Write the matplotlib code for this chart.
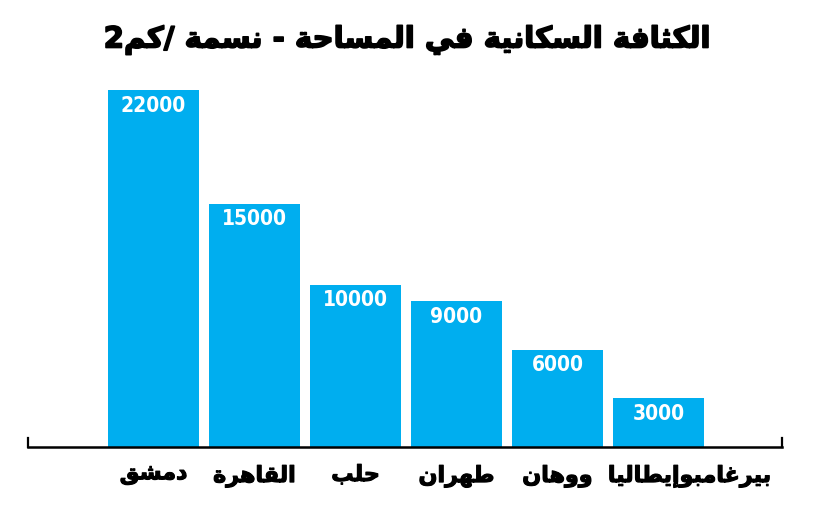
import matplotlib
matplotlib.use("Agg")
import matplotlib.pyplot as plt
from matplotlib.transforms import ScaledTranslation
import matplotlib.patheffects as pe

# ---- data ----
title = "الكثافة السكانية في المساحة - نسمة /كم2"
categories = ["دمشق", "القاهرة", "حلب", "طهران", "ووهان", "بيرغامبوإيطاليا"]
values = [22000, 15000, 10000, 9000, 6000, 3000]

# ---- minimal Arabic shaping (presentation forms) + visual reordering ----
FORMS = {
    '\u0627': ('\uFE8D', '\uFE8E', None, None),
    '\u0625': ('\uFE87', '\uFE88', None, None),
    '\u0623': ('\uFE83', '\uFE84', None, None),
    '\u0628': ('\uFE8F', '\uFE90', '\uFE91', '\uFE92'),
    '\u0629': ('\uFE93', '\uFE94', None, None),
    '\u062A': ('\uFE95', '\uFE96', '\uFE97', '\uFE98'),
    '\u062B': ('\uFE99', '\uFE9A', '\uFE9B', '\uFE9C'),
    '\u062C': ('\uFE9D', '\uFE9E', '\uFE9F', '\uFEA0'),
    '\u062D': ('\uFEA1', '\uFEA2', '\uFEA3', '\uFEA4'),
    '\u062E': ('\uFEA5', '\uFEA6', '\uFEA7', '\uFEA8'),
    '\u062F': ('\uFEA9', '\uFEAA', None, None),
    '\u0630': ('\uFEAB', '\uFEAC', None, None),
    '\u0631': ('\uFEAD', '\uFEAE', None, None),
    '\u0632': ('\uFEAF', '\uFEB0', None, None),
    '\u0633': ('\uFEB1', '\uFEB2', '\uFEB3', '\uFEB4'),
    '\u0634': ('\uFEB5', '\uFEB6', '\uFEB7', '\uFEB8'),
    '\u0635': ('\uFEB9', '\uFEBA', '\uFEBB', '\uFEBC'),
    '\u0636': ('\uFEBD', '\uFEBE', '\uFEBF', '\uFEC0'),
    '\u0637': ('\uFEC1', '\uFEC2', '\uFEC3', '\uFEC4'),
    '\u0638': ('\uFEC5', '\uFEC6', '\uFEC7', '\uFEC8'),
    '\u0639': ('\uFEC9', '\uFECA', '\uFECB', '\uFECC'),
    '\u063A': ('\uFECD', '\uFECE', '\uFECF', '\uFED0'),
    '\u0641': ('\uFED1', '\uFED2', '\uFED3', '\uFED4'),
    '\u0642': ('\uFED5', '\uFED6', '\uFED7', '\uFED8'),
    '\u0643': ('\uFED9', '\uFEDA', '\uFEDB', '\uFEDC'),
    '\u0644': ('\uFEDD', '\uFEDE', '\uFEDF', '\uFEE0'),
    '\u0645': ('\uFEE1', '\uFEE2', '\uFEE3', '\uFEE4'),
    '\u0646': ('\uFEE5', '\uFEE6', '\uFEE7', '\uFEE8'),
    '\u0647': ('\uFEE9', '\uFEEA', '\uFEEB', '\uFEEC'),
    '\u0648': ('\uFEED', '\uFEEE', None, None),
    '\u064A': ('\uFEF1', '\uFEF2', '\uFEF3', '\uFEF4'),
}


def shape(s):
    out = []
    n = len(s)
    for i, c in enumerate(s):
        if c not in FORMS:
            out.append(c)
            continue
        prev = s[i - 1] if i > 0 else None
        nxt = s[i + 1] if i < n - 1 else None
        jp = prev in FORMS and FORMS[prev][2] is not None
        jn = FORMS[c][2] is not None and nxt in FORMS
        iso, fin, ini, med = FORMS[c]
        if jp and jn:
            out.append(med)
        elif jp:
            out.append(fin)
        elif jn:
            out.append(ini)
        else:
            out.append(iso)
    out = out[::-1]
    res, run = [], []
    for ch in out:
        if ch.isdigit():
            run.append(ch)
        else:
            if run:
                res.extend(run[::-1])
                run = []
            res.append(ch)
    if run:
        res.extend(run[::-1])
    return "".join(res)


bar_color = "#00AEEF"

fig = plt.figure(figsize=(8.22, 5.07), dpi=100)
ax = fig.add_axes([28 / 822, 60 / 507, (782 - 28) / 822, (447 - 74) / 507])

x = list(range(len(categories)))
bars = ax.bar(x, values, width=0.9, color=bar_color, zorder=2)
ax.set_xlim(-1.243, 6.223)
ax.set_ylim(0, 23000)

for b, v in zip(bars, values):
    ax.annotate(str(v), (b.get_x() + b.get_width() / 2, v), xytext=(0, -4),
                textcoords="offset points", ha="center", va="top",
                color="white", fontsize=15, fontweight="bold",
                fontstretch="condensed", family=["DejaVu Sans"])

ax.spines["top"].set_visible(False)
for s in ["left", "right"]:
    ax.spines[s].set_linewidth(1.6)
    ax.spines[s].set_bounds(0, 560)
ax.spines["bottom"].set_linewidth(1.8)
ax.spines["bottom"].set_zorder(3)

ax.set_yticks([])
ax.set_xticks(x)
ax.set_xticklabels([shape(c) for c in categories], fontsize=16,
                   fontweight="bold", family=["DejaVu Sans"])
ax.tick_params(axis="x", length=0, pad=13)
labels = ax.get_xticklabels()
for lb in labels:
    lb.set_path_effects([pe.withStroke(linewidth=0.8, foreground="black")])
labels[-1].set_transform(labels[-1].get_transform() +
                         ScaledTranslation(31 / 100, 0, fig.dpi_scale_trans))

fig.text(407 / 822, 1 - 40 / 507, shape(title), ha="center", va="center",
         fontsize=21, fontweight="bold", family=["DejaVu Sans"],
         path_effects=[pe.withStroke(linewidth=1.2, foreground="black")])

fig.savefig("out.png", dpi=100)
